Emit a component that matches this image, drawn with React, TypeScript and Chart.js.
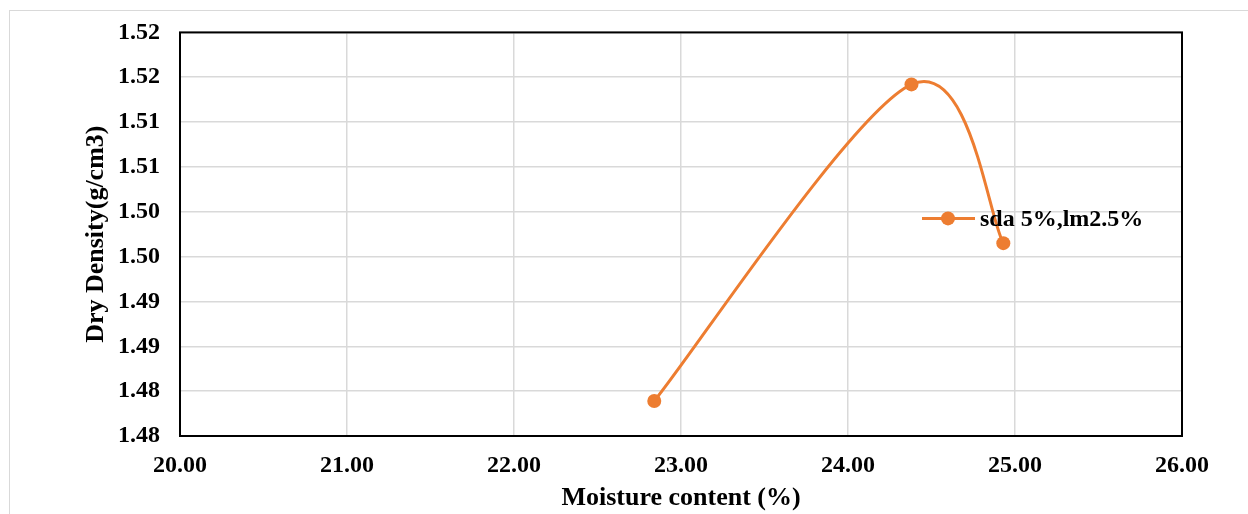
import React, { useEffect, useRef } from "react";
import { Chart, registerables } from "chart.js";

Chart.register(...registerables);

const seriesName = "sda 5%,lm2.5%";
const moisture = [22.84, 24.38, 24.93];
const dryDensity = [1.4789, 1.5142, 1.4965];
const xTicks = [20, 21, 22, 23, 24, 25, 26];
const yTickLabels = ["1.48", "1.48", "1.49", "1.49", "1.50", "1.50", "1.51", "1.51", "1.52", "1.52"];
const xTitle = "Moisture content (%)";
const yTitle = "Dry Density(g/cm3)";

const ORANGE = "#ED7D31";
const FONT = "'Liberation Serif', 'Times New Roman', serif";

// Excel-style smoothing: Bezier control points at 1/6 of neighbour differences,
// computed from the pixel positions that the library's scales gave the points.
const excelSmooth = {
  id: "excelSmooth",
  beforeDatasetDraw(chart: any, args: any) {
    const meta = args.meta;
    const line = meta.dataset;
    if (!line) return;
    line.updateControlPoints(chart.chartArea, "x");
    const pts = meta.data;
    const n = pts.length;
    for (let i = 0; i < n; i++) {
      const p = pts[i];
      const prev = pts[Math.max(0, i - 1)];
      const next = pts[Math.min(n - 1, i + 1)];
      const dx = (next.x - prev.x) / 6;
      const dy = (next.y - prev.y) / 6;
      p.cp1x = p.x - dx;
      p.cp1y = p.y - dy;
      p.cp2x = p.x + dx;
      p.cp2y = p.y + dy;
    }
    line._path = undefined;
  },
};

const frameBox = {
  id: "frameBox",
  beforeDatasetsDraw(chart: any) {
    const { ctx, chartArea } = chart;
    ctx.save();
    ctx.strokeStyle = "#000";
    ctx.lineWidth = 2;
    ctx.strokeRect(chartArea.left, chartArea.top, chartArea.right - chartArea.left, chartArea.bottom - chartArea.top);
    ctx.restore();
  },
  afterDraw(chart: any) {
    const { ctx, chartArea } = chart;
    const x0 = chartArea.left + 742;
    const y0 = chartArea.top + 186;
    ctx.save();
    ctx.strokeStyle = ORANGE;
    ctx.lineWidth = 3;
    ctx.beginPath();
    ctx.moveTo(x0, y0);
    ctx.lineTo(x0 + 53, y0);
    ctx.stroke();
    ctx.fillStyle = ORANGE;
    ctx.beginPath();
    ctx.arc(x0 + 26, y0, 7, 0, Math.PI * 2);
    ctx.fill();
    ctx.fillStyle = "#000";
    ctx.font = `bold 24px ${FONT}`;
    ctx.textBaseline = "middle";
    ctx.textAlign = "left";
    ctx.fillText(seriesName, x0 + 58, y0 + 1);
    ctx.restore();
  },
};

export default function App() {
  const ref = useRef<HTMLCanvasElement | null>(null);
  useEffect(() => {
    if (!ref.current) return;
    const chart = new Chart(ref.current, {
      type: "line",
      data: {
        datasets: [
          {
            label: seriesName,
            data: moisture.map((x, i) => ({ x, y: dryDensity[i] })),
            borderColor: ORANGE,
            backgroundColor: ORANGE,
            borderWidth: 3,
            pointRadius: 7,
            pointHoverRadius: 7,
            pointBorderWidth: 0,
            tension: 0.4,
            fill: false,
          },
        ],
      },
      options: {
        animation: false,
        responsive: false,
        maintainAspectRatio: false,
        layout: { padding: { left: 0, right: 66, top: 0, bottom: 0 } },
        plugins: { legend: { display: false }, tooltip: { enabled: false } },
        scales: {
          x: {
            type: "linear",
            min: 20,
            max: 26,
            afterBuildTicks: (s: any) => {
              s.ticks = xTicks.map((v) => ({ value: v }));
            },
            afterFit: (s: any) => {
              s.height = 78;
            },
            ticks: {
              padding: 15,
              color: "#000",
              font: { family: FONT, size: 24, weight: "bold" },
              callback: (v: any) => Number(v).toFixed(2),
              maxRotation: 0,
            },
            grid: { color: "#d9d9d9", lineWidth: 1.5, drawTicks: false },
            border: { display: false },
            title: {
              display: true,
              text: xTitle,
              color: "#000",
              font: { family: FONT, size: 26, weight: "bold" },
              padding: { top: 0, bottom: 0 },
            },
          },
          y: {
            type: "linear",
            min: 1.475,
            max: 1.52,
            afterBuildTicks: (s: any) => {
              s.ticks = yTickLabels.map((_, i) => ({ value: 1.475 + i * 0.005 }));
            },
            afterFit: (s: any) => {
              s.width = 170;
            },
            ticks: {
              padding: 20,
              color: "#000",
              font: { family: FONT, size: 24, weight: "bold" },
              callback: (_v: any, i: number) => yTickLabels[i],
            },
            grid: { color: "#d9d9d9", lineWidth: 1.5, drawTicks: false },
            border: { display: false },
            title: {
              display: true,
              text: yTitle,
              color: "#000",
              font: { family: FONT, size: 26, weight: "bold" },
              padding: { top: 71, bottom: 0 },
            },
          },
        },
      },
      plugins: [excelSmooth, frameBox],
    });
    return () => chart.destroy();
  }, []);

  return (
    <>
      <div
        style={{
          position: "absolute",
          left: 9,
          top: 10,
          width: 1260,
          height: 520,
          borderLeft: "1px solid #d9d9d9",
          borderTop: "1px solid #d9d9d9",
          background: "#fff",
        }}
      />
      <canvas
        ref={ref}
        width={1238}
        height={516}
        style={{ display: "block", position: "absolute", left: 10, top: -2 }}
      />
    </>
  );
}
